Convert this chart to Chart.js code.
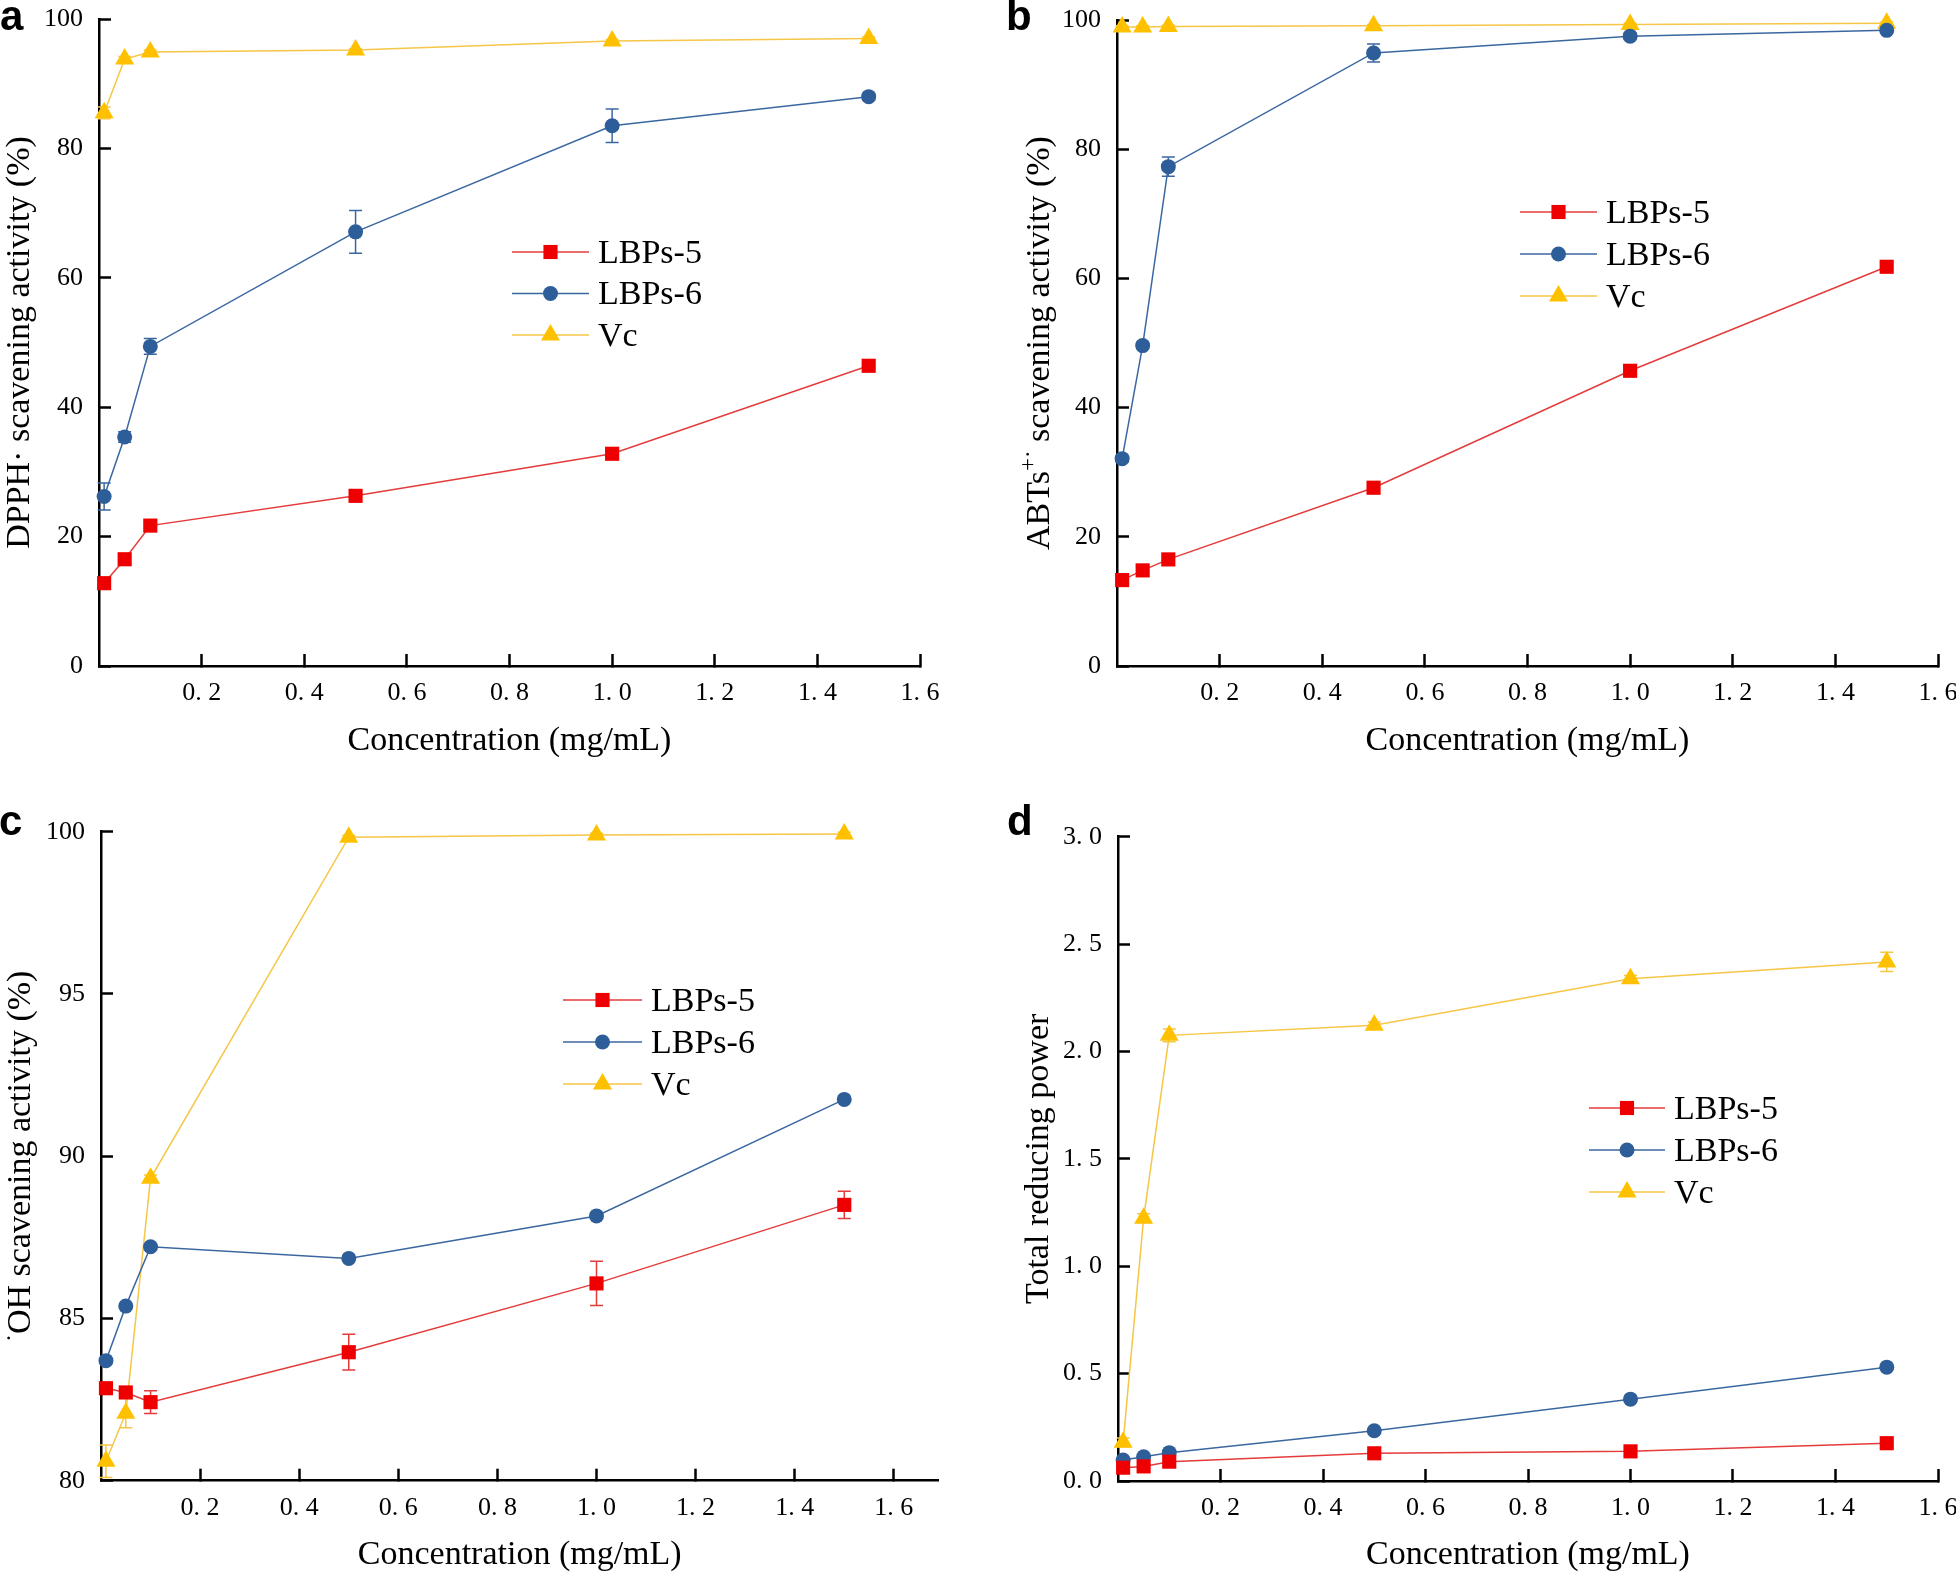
<!DOCTYPE html>
<html>
<head>
<meta charset="utf-8">
<title>LBPs antioxidant activity</title>
<script src="https://cdn.jsdelivr.net/npm/chart.js@4.4.1/dist/chart.umd.min.js"></script>
<style>
  html, body { margin: 0; padding: 0; background: #fff; }
  #page { position: relative; width: 1956px; height: 1572px; overflow: hidden; background: #fff; }
  #page canvas { position: absolute; }
</style>
</head>
<body>
<div id="page">
  <canvas id="chartA"></canvas>
  <canvas id="chartB"></canvas>
  <canvas id="chartC"></canvas>
  <canvas id="chartD"></canvas>
</div>
<script>
// ================= DATA =================
const concentration = [0.01, 0.05, 0.1, 0.5, 1.0, 1.5];
const seriesNames = ["LBPs-5", "LBPs-6", "Vc"];
const xTickValues = [0.2, 0.4, 0.6, 0.8, 1.0, 1.2, 1.4, 1.6];

// a - DPPH radical scavenging (%)
const dpphTicks = [0, 20, 40, 60, 80, 100];
const dpphLbps5 = [12.8, 16.5, 21.7, 26.3, 32.8, 46.4];
const dpphLbps5Err = [0.4, 0.5, 0.5, 0.5, 0.4, 0.4];
const dpphLbps6 = [26.2, 35.4, 49.4, 67.1, 83.5, 88.0];
const dpphLbps6Err = [2.1, 0.8, 1.2, 3.3, 2.6, 0.5];
const dpphVc = [85.5, 93.8, 94.9, 95.2, 96.6, 97.0];
const dpphVcErr = [0.9, 0.4, 0.3, 0.2, 0.2, 0.2];

// b - ABTS radical scavenging (%)
const abtsTicks = [0, 20, 40, 60, 80, 100];
const abtsLbps5 = [13.3, 14.8, 16.5, 27.6, 45.7, 61.8];
const abtsLbps5Err = [0.4, 0.4, 0.5, 0.9, 0.5, 0.4];
const abtsLbps6 = [32.1, 49.6, 77.3, 94.9, 97.5, 98.4];
const abtsLbps6Err = [0.5, 0.5, 1.5, 1.4, 0.5, 0.4];
const abtsVc = [98.9, 98.9, 99.0, 99.1, 99.3, 99.5];
const abtsVcErr = [0.2, 0.2, 0.2, 0.2, 0.2, 0.2];

// c - hydroxyl radical scavenging (%)
const ohTicks = [80, 85, 90, 95, 100];
const ohLbps5 = [82.85, 82.72, 82.42, 83.96, 86.08, 88.5];
const ohLbps5Err = [0.12, 0.1, 0.35, 0.55, 0.68, 0.42];
const ohLbps6 = [83.7, 85.38, 87.21, 86.85, 88.16, 91.75];
const ohLbps6Err = [0.05, 0.05, 0.05, 0.05, 0.05, 0.05];
const ohVc = [80.6, 82.08, 89.32, 99.83, 99.9, 99.93];
const ohVcErr = [0.5, 0.45, 0.1, 0.05, 0.05, 0.05];

// d - total reducing power
const powerTicks = [0, 0.5, 1.0, 1.5, 2.0, 2.5, 3.0];
const powerLbps5 = [0.062, 0.068, 0.09, 0.129, 0.138, 0.176];
const powerLbps5Err = [0.005, 0.005, 0.005, 0.006, 0.006, 0.008];
const powerLbps6 = [0.098, 0.113, 0.132, 0.234, 0.381, 0.53];
const powerLbps6Err = [0.005, 0.005, 0.006, 0.008, 0.008, 0.01];
const powerVc = [0.18, 1.224, 2.075, 2.122, 2.339, 2.417];
const powerVcErr = [0.02, 0.02, 0.03, 0.015, 0.015, 0.045];

// ================= STYLE =================
const SERIF = "'Liberation Serif', 'Times New Roman', serif";
const seriesStyles = [
  { fill: "#EE0000", line: "#E43B3B", shape: "rect", radius: 10 },
  { fill: "#2E5E99", line: "#3B67A1", shape: "circle", radius: 7.5 },
  { fill: "#FFC000", line: "#F6C646", shape: "triangle", radius: 11 }
];

const plainFmt = v => String(v);
const spacedFmt = v => Number(v).toFixed(1).replace(".", ". ");

function series(i, values, errors) {
  const st = seriesStyles[i];
  return {
    label: seriesNames[i],
    data: concentration.map((x, k) => ({ x, y: values[k] })),
    errors,
    errColor: st.line,
    borderColor: st.line,
    borderWidth: 1.5,
    pointStyle: st.shape,
    pointRadius: st.radius,
    pointHoverRadius: st.radius,
    pointBackgroundColor: st.fill,
    pointBorderColor: st.fill,
    pointBorderWidth: 0,
    tension: 0,
    fill: false,
    clip: false
  };
}

// ================= PLUGINS =================
const errorBars = {
  id: "errorBars",
  beforeDatasetsDraw(chart) {
    const { ctx, scales } = chart;
    chart.data.datasets.forEach(ds => {
      if (!ds.errors) return;
      ctx.save();
      ctx.strokeStyle = ds.errColor;
      ctx.lineWidth = 1.5;
      ds.data.forEach((p, k) => {
        const e = ds.errors[k];
        const px = scales.x.getPixelForValue(p.x);
        const y1 = scales.y.getPixelForValue(p.y + e);
        const y2 = scales.y.getPixelForValue(p.y - e);
        ctx.beginPath();
        ctx.moveTo(px, y1); ctx.lineTo(px, y2);
        ctx.moveTo(px - 6.5, y1); ctx.lineTo(px + 6.5, y1);
        ctx.moveTo(px - 6.5, y2); ctx.lineTo(px + 6.5, y2);
        ctx.stroke();
      });
      ctx.restore();
    });
  }
};

const inlineLegend = {
  id: "inlineLegend",
  afterDatasetsDraw(chart, args, opts) {
    const ctx = chart.ctx;
    const ox = opts.x - opts.box[0];
    const oy = opts.y - opts.box[1];
    chart.data.datasets.forEach((ds, i) => {
      const y = oy + i * opts.gap;
      ctx.save();
      ctx.strokeStyle = ds.borderColor;
      ctx.lineWidth = ds.borderWidth;
      ctx.beginPath();
      ctx.moveTo(ox, y);
      ctx.lineTo(ox + opts.len, y);
      ctx.stroke();
      ctx.fillStyle = ds.pointBackgroundColor;
      Chart.helpers.drawPoint(ctx, {
        pointStyle: ds.pointStyle, radius: ds.pointRadius, borderWidth: 0, rotation: 0
      }, ox + opts.len / 2, y);
      ctx.fillStyle = "#000";
      ctx.font = `34px ${SERIF}`;
      ctx.textAlign = "left";
      ctx.textBaseline = "middle";
      ctx.fillText(ds.label, ox + opts.len + opts.textGap, y + 2);
      ctx.restore();
    });
  }
};

// rotated y title, with optional superscript pieces
const yTitle = {
  id: "yTitle",
  afterDraw(chart, args, opts) {
    const ctx = chart.ctx;
    const size = 34;
    const area = chart.chartArea;
    const cy = (area.top + area.bottom) / 2;
    const fontOf = p => `${p.sup ? Math.round(size * 0.68) : size}px ${SERIF}`;
    ctx.save();
    ctx.translate(opts.x - opts.box[0], cy);
    ctx.rotate(-Math.PI / 2);
    ctx.fillStyle = "#000";
    ctx.textBaseline = "alphabetic";
    ctx.textAlign = "left";
    let total = 0;
    opts.parts.forEach(p => { ctx.font = fontOf(p); p.w = ctx.measureText(p.text).width; total += p.w; });
    let cx = -total / 2;
    opts.parts.forEach(p => {
      ctx.font = fontOf(p);
      ctx.fillText(p.text, cx, size * 0.33 - (p.sup ? size * 0.42 : 0));
      cx += p.w;
    });
    ctx.restore();

    // panel letter
    ctx.save();
    ctx.font = `bold 42px 'Liberation Sans', Arial, sans-serif`;
    ctx.fillStyle = "#000";
    ctx.textBaseline = "alphabetic";
    ctx.textAlign = "left";
    ctx.fillText(opts.letter[0], opts.letter[1] - opts.box[0], opts.letter[2] - opts.box[1]);
    ctx.restore();
  }
};

// ================= PANEL BUILDER =================
function buildPanel(p) {
  const [bl, bt, br, bb] = p.box;
  const [al, at, ar, ab] = p.area;
  const canvas = document.getElementById(p.id);
  canvas.width = br - bl;
  canvas.height = bb - bt;
  canvas.style.left = bl + "px";
  canvas.style.top = bt + "px";

  const axisGrid = { display: true, drawOnChartArea: false, drawTicks: true, tickLength: -12, tickWidth: 2.5, tickColor: "#000" };
  const axisBorder = { display: true, color: "#000", width: 2.5 };
  const tickFont = { family: SERIF, size: 26, lineHeight: 1.2 };

  return new Chart(canvas, {
    type: "line",
    data: { datasets: p.datasets },
    options: {
      responsive: false,
      animation: false,
      events: [],
      layout: { autoPadding: false, padding: { left: 0, top: at - bt, right: br - ar, bottom: 0 } },
      plugins: {
        legend: { display: false },
        tooltip: { enabled: false },
        inlineLegend: Object.assign({ box: p.box }, p.legend),
        yTitle: { box: p.box, x: p.yTitleX, parts: p.yTitle, letter: p.letter }
      },
      scales: {
        x: {
          type: "linear",
          min: 0,
          max: p.xMax,
          afterBuildTicks: s => { s.ticks = xTickValues.map(v => ({ value: v })); },
          ticks: { font: tickFont, color: "#000", padding: 24, maxRotation: 0, autoSkip: false, callback: v => spacedFmt(v) },
          grid: axisGrid,
          border: axisBorder,
          title: {
            display: true,
            text: "Concentration (mg/mL)",
            color: "#000",
            font: { family: SERIF, size: 34, lineHeight: 1 },
            padding: { top: 0, bottom: (bb - ab) - 17 - (p.xTitleY - ab) }
          },
          afterFit: s => { s.height = bb - ab; s.paddingLeft = 0; s.paddingRight = 0; }
        },
        y: {
          type: "linear",
          min: p.yTicks[0],
          max: p.yTicks[p.yTicks.length - 1],
          afterBuildTicks: s => { s.ticks = p.yTicks.map(v => ({ value: v })); },
          ticks: { font: tickFont, color: "#000", padding: 28, autoSkip: false, callback: v => p.yFmt(v) },
          grid: axisGrid,
          border: axisBorder,
          afterFit: s => { s.width = al - bl; s.paddingTop = 0; s.paddingBottom = 0; }
        }
      }
    },
    plugins: [errorBars, inlineLegend, yTitle]
  });
}

// ================= INIT =================
buildPanel({
  id: "chartA", box: [0, 0, 978, 780], area: [99, 19, 920, 666], xMax: 1.6,
  yTicks: dpphTicks, yFmt: plainFmt, xTitleY: 741, yTitleX: 18,
  yTitle: [{ text: "DPPH· scavening activity (%)" }],
  letter: ["a", 0, 30],
  legend: { x: 512, y: 252, gap: 41.5, len: 77, textGap: 9 },
  datasets: [series(0, dpphLbps5, dpphLbps5Err), series(1, dpphLbps6, dpphLbps6Err), series(2, dpphVc, dpphVcErr)]
});

buildPanel({
  id: "chartB", box: [990, 0, 1956, 780], area: [1117, 20, 1938, 666], xMax: 1.6,
  yTicks: abtsTicks, yFmt: plainFmt, xTitleY: 741, yTitleX: 1038,
  yTitle: [{ text: "ABTs" }, { text: "+·", sup: true }, { text: " scavening activity (%)" }],
  letter: ["b", 1006, 30],
  legend: { x: 1520, y: 212, gap: 42, len: 77, textGap: 9 },
  datasets: [series(0, abtsLbps5, abtsLbps5Err), series(1, abtsLbps6, abtsLbps6Err), series(2, abtsVc, abtsVcErr)]
});

buildPanel({
  id: "chartC", box: [0, 790, 978, 1572], area: [101, 831.7, 938.4, 1480.7], xMax: 1.69,
  yTicks: ohTicks, yFmt: plainFmt, xTitleY: 1555, yTitleX: 19,
  yTitle: [{ text: "·", sup: true }, { text: "OH scavening activity (%)" }],
  letter: ["c", -1, 835],
  legend: { x: 563, y: 1000, gap: 42, len: 79, textGap: 9 },
  datasets: [series(0, ohLbps5, ohLbps5Err), series(1, ohLbps6, ohLbps6Err), series(2, ohVc, ohVcErr)]
});

buildPanel({
  id: "chartD", box: [990, 790, 1956, 1572], area: [1118, 836.7, 1938, 1481], xMax: 1.6,
  yTicks: powerTicks, yFmt: spacedFmt, xTitleY: 1555, yTitleX: 1037,
  yTitle: [{ text: "Total reducing power" }],
  letter: ["d", 1007, 835],
  legend: { x: 1589, y: 1108, gap: 42, len: 76, textGap: 9 },
  datasets: [series(0, powerLbps5, powerLbps5Err), series(1, powerLbps6, powerLbps6Err), series(2, powerVc, powerVcErr)]
});
</script>
</body>
</html>
